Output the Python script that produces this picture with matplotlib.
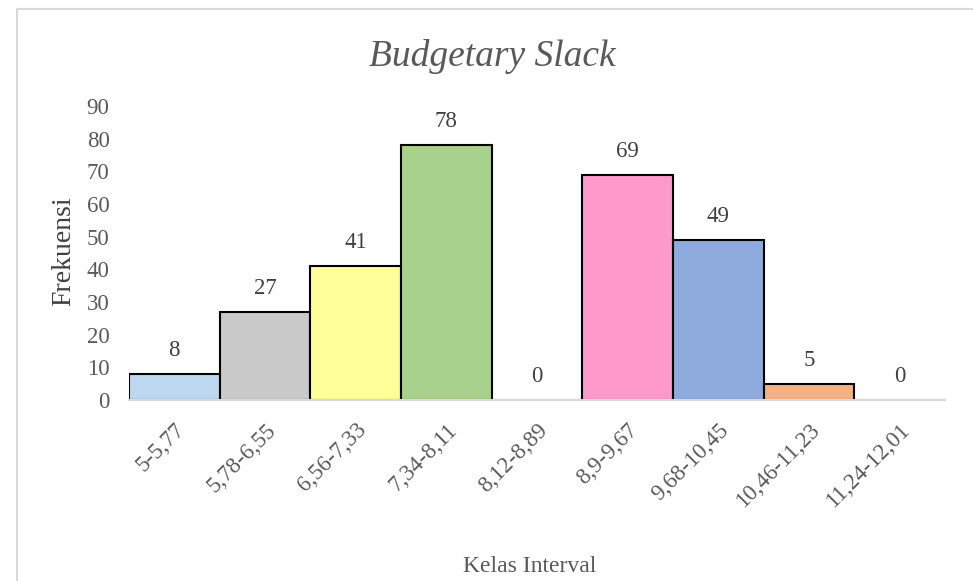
import matplotlib.pyplot as plt
from matplotlib.patches import Rectangle

plt.rcParams['font.family'] = ['Liberation Serif', 'DejaVu Serif']

# data
kelas = ['5-5,77', '5,78-6,55', '6,56-7,33', '7,34-8,11', '8,12-8,89',
         '8,9-9,67', '9,68-10,45', '10,46-11,23', '11,24-12,01']
frekuensi = [8, 27, 41, 78, 0, 69, 49, 5, 0]
warna = ['#BDD7EE', '#C9C9C9', '#FFFF99', '#A9D18E', '#FFFFFF',
         '#FF99CC', '#8FAADC', '#F4B183', '#FFFFFF']

fig = plt.figure(figsize=(9.73, 5.81), dpi=100)
fig.patches.append(Rectangle((17/973, -0.01), 1.0, 1 - 9/581 + 0.01,
                             transform=fig.transFigure, fill=False,
                             edgecolor='#D9D9D9', linewidth=1.5))
ax = fig.add_axes([0.1326, 0.3115, 0.8384, 0.5061])

x = range(len(kelas))
ax.bar(x, frekuensi, width=1.0, color=warna, edgecolor='black', linewidth=1.5)
for xi, v in zip(x, frekuensi):
    ax.text(xi, v + 4.0, str(v), ha='center', va='bottom', fontsize=16.5, color='#404040')

ax.set_xlim(-0.5, len(kelas) - 0.5)
ax.set_ylim(0, 90)
ax.set_yticks(range(0, 91, 10))
ax.set_xticks(list(x))
ax.set_xticklabels(kelas, rotation=45, ha='right', va='top', rotation_mode='anchor')
ax.tick_params(axis='both', length=0, labelsize=16.5, labelcolor='#595959')
ax.tick_params(axis='x', pad=14)
ax.tick_params(axis='y', pad=14)
for s in ['top', 'right', 'left']:
    ax.spines[s].set_visible(False)
ax.spines['bottom'].set_color('#D9D9D9')
ax.spines['bottom'].set_linewidth(1.5)
ax.patch.set_alpha(0)

fig.text(64/973, 1 - 251/581, 'Frekuensi', rotation=90, ha='center', va='center',
         fontsize=20, color='#404040')
fig.text(530/973, 1 - 567/581, 'Kelas Interval', ha='center', va='center',
         fontsize=17, color='#595959')
fig.text(0.506, 0.902, 'Budgetary Slack', ha='center', va='center',
         fontsize=27, style='italic', color='#595959')

fig.savefig('out.png', dpi=100)
